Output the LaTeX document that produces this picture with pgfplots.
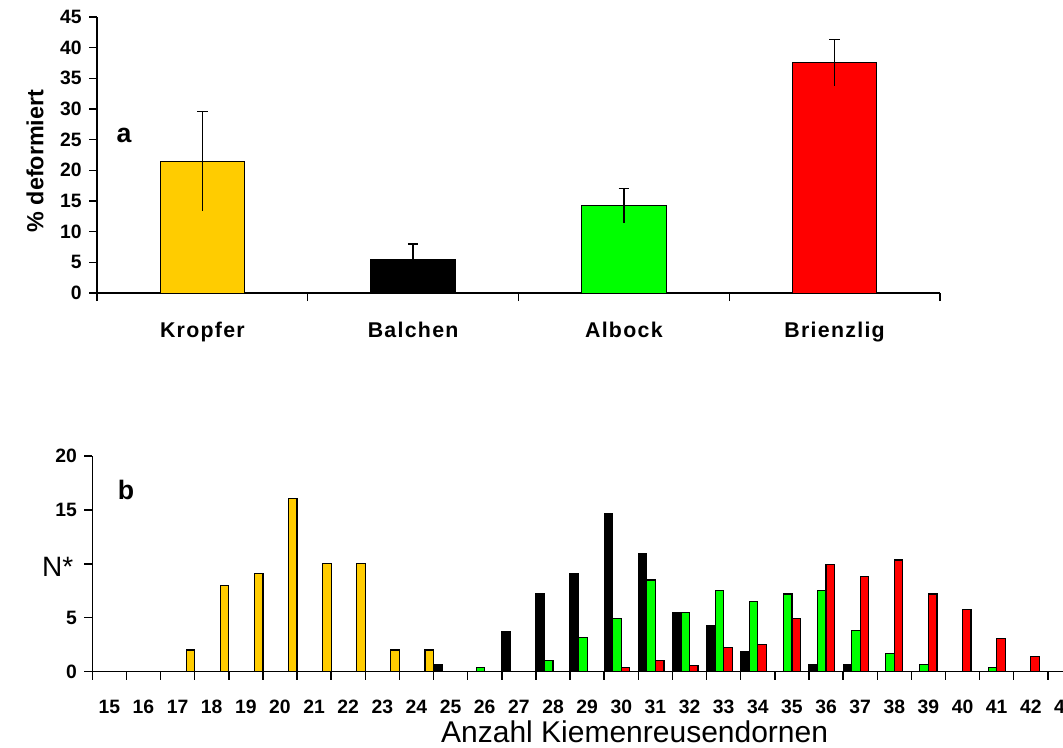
\documentclass[border=0pt]{standalone}
\usepackage{pgfplots}
\pgfplotsset{compat=1.18}
\usepackage{fontspec}
\setmainfont{Liberation Sans}
\definecolor{kro}{HTML}{FFCC00}
\definecolor{alb}{HTML}{00FF00}
\definecolor{bri}{HTML}{FF0000}
\newfontfamily\catfont[LetterSpace=6]{Liberation Sans}
\pgfplotsset{
  errtop/.style={error bars/.cd, y dir=plus, y explicit, error mark=-,
    error bar style={draw=black, line width=1.1pt},
    error mark options={rotate=90, mark size=4pt, line width=1.1pt, draw=black}},
}
\begin{document}
\begin{tikzpicture}
% ---------------- panel a ----------------
\begin{axis}[
  at={(72.75pt,340.5pt)}, anchor=south west,
  scale only axis, width=632.25pt, height=207pt,
  xmin=0.5, xmax=4.5, ymin=0, ymax=45,
  axis lines=left, axis line style={-, line width=1.1pt},
  tick align=outside, major tick length=6pt,
  every tick/.style={black, line width=1.1pt},
  xtick={0.5,1.5,2.5,3.5,4.5},
  xticklabels={Kropfer,Balchen,Albock,Brienzlig},
  x tick label as interval,
  xticklabel style={font=\catfont\fontsize{16}{19}\bfseries, yshift=-12pt},
  ytick={0,5,...,45},
  yticklabel style={font=\fontsize{14.5}{16}\bfseries, xshift=-2pt},
  /pgf/number format/assume math mode=true,
  ylabel={\% deformiert},
  ylabel style={font=\fontsize{17.5}{20}\bfseries, at={(axis description cs:-0.0735,0.478)}, anchor=center},
  clip=false,
]
\addplot[ybar, bar width=0.4, bar shift=0pt, fill=kro, draw=black, line width=0.75pt, errtop]
  coordinates {(1,21.5) +- (0,8.05)};
\addplot[ybar, bar width=0.4, bar shift=0pt, fill=black, draw=black, line width=0.75pt, errtop]
  coordinates {(2,5.4) +- (0,2.6)};
\addplot[ybar, bar width=0.4, bar shift=0pt, fill=alb, draw=black, line width=0.75pt, errtop]
  coordinates {(3,14.25) +- (0,2.8)};
\addplot[ybar, bar width=0.4, bar shift=0pt, fill=bri, draw=black, line width=0.75pt, errtop]
  coordinates {(4,37.55) +- (0,3.75)};
% lower halves of the error bars (no caps)
\addplot[draw=none, mark=none, forget plot,
  error bars/.cd, y dir=minus, y explicit, error mark=none,
  error bar style={draw=black, line width=1.1pt}]
  coordinates {(1,21.5) +- (0,8.05) (2,5.4) +- (0,2.6) (3,14.25) +- (0,2.8) (4,37.55) +- (0,3.75)};
\node[font=\fontsize{20}{24}\bfseries] at (rel axis cs:0.032,0.572) {a};
\end{axis}
% ---------------- panel b ----------------
\begin{axis}[
  at={(69.2pt,56.5pt)}, anchor=south west,
  scale only axis, width=742.3pt, height=161.8pt,
  xmin=14.5, xmax=43.5, ymin=0, ymax=20,
  axis lines=left, axis line style={-, line width=1.1pt},
  tick align=outside, major tick length=6pt,
  every tick/.style={black, line width=1.1pt},
  xtick={14.5,15.5,...,43.5},
  xticklabels={15,16,17,18,19,20,21,22,23,24,25,26,27,28,29,30,31,32,33,34,35,36,37,38,39,40,41,42,43},
  x tick label as interval,
  xticklabel style={font=\fontsize{14.5}{16}\bfseries, yshift=-12pt},
  ytick={0,5,...,20},
  yticklabels={0,5,,15,20},
  yticklabel style={font=\fontsize{14.5}{16}\bfseries, xshift=-2pt},
  /pgf/number format/assume math mode=true,
  ylabel={N*},
  ylabel style={font=\fontsize{21}{24}\selectfont, at={(axis description cs:-0.035,0.485)}, anchor=center, rotate=-90},
  xlabel={Anzahl Kiemenreusendornen},
  xlabel style={font=\fontsize{22.5}{26}\selectfont, at={(axis description cs:0.548,-0.28)}, anchor=center},
  clip=false,
]
\addplot[ybar, bar width=0.25, bar shift=0.375, fill=kro, draw=black, line width=0.9pt]
  coordinates {(17,2) (18,8) (19,9.1) (20,16.05) (21,10) (22,10) (23,2) (24,2)};
\addplot[ybar, bar width=0.25, bar shift=-0.375, fill=black, draw=black, line width=0.9pt]
  coordinates {(25,0.7) (27,3.7) (28,7.2) (29,9.1) (30,14.65) (31,10.95) (32,5.5) (33,4.25) (34,1.85) (36,0.7) (37,0.7)};
\addplot[ybar, bar width=0.25, bar shift=-0.125, fill=alb, draw=black, line width=0.9pt]
  coordinates {(26,0.4) (28,1.0) (29,3.2) (30,4.9) (31,8.5) (32,5.5) (33,7.5) (34,6.5) (35,7.2) (36,7.5) (37,3.8) (38,1.65) (39,0.65) (41,0.4)};
\addplot[ybar, bar width=0.25, bar shift=0.125, fill=bri, draw=black, line width=0.9pt]
  coordinates {(30,0.4) (31,1.0) (32,0.55) (33,2.25) (34,2.55) (35,4.9) (36,9.9) (37,8.8) (38,10.35) (39,7.2) (40,5.8) (41,3.1) (42,1.4)};
\node[font=\fontsize{20}{24}\bfseries] at (rel axis cs:0.034,0.842) {b};
\end{axis}
\pgfresetboundingbox
\useasboundingbox (0,0) rectangle (797.25pt,560.25pt);
\end{tikzpicture}
\end{document}
